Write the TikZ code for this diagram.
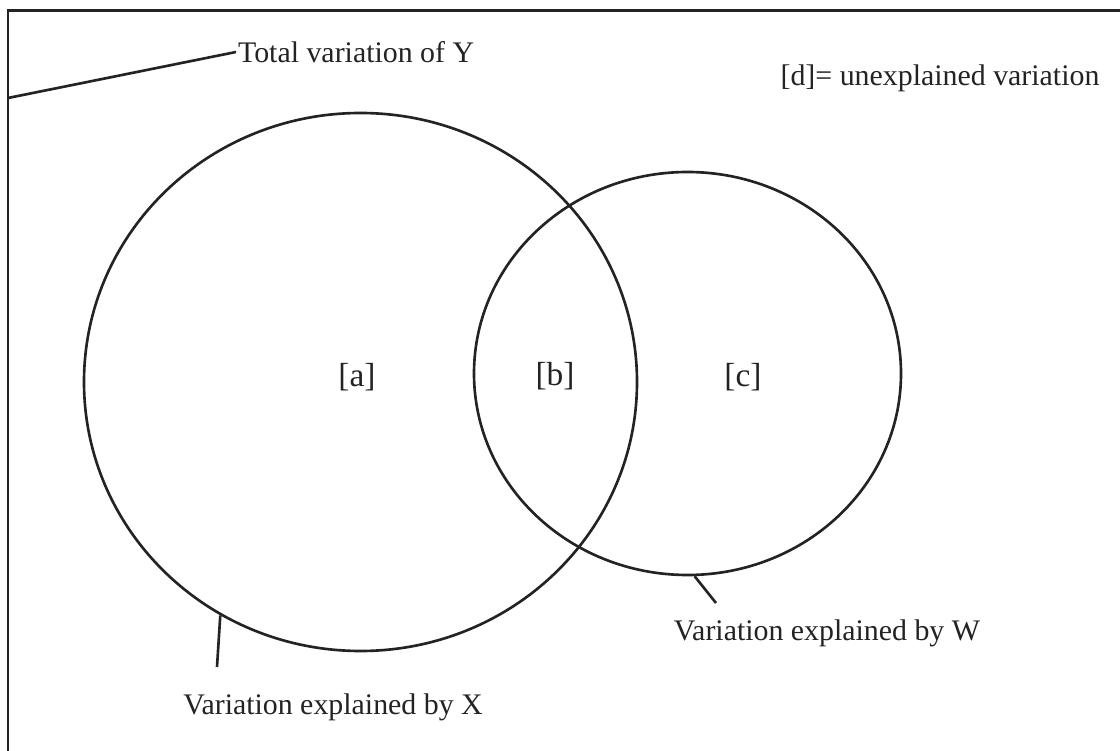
\documentclass[tikz,border=0pt]{standalone}
\usepackage{fontspec}
\setmainfont{Liberation Serif}
\usetikzlibrary{shapes.geometric}
\definecolor{ink}{RGB}{35,35,35}

\begin{document}
\begin{tikzpicture}[
    set/.style={ellipse, draw=ink, line width=1.5pt, inner sep=0pt},
    leader/.style={draw=ink, line width=1.5pt},
    lab/.style={font=\fontsize{17}{20}\selectfont, color=ink, inner sep=1pt},
    part/.style={font=\fontsize{19}{22}\selectfont, color=ink, inner sep=0pt}]
  % pinned page, the frame runs off the right and bottom edges
  \useasboundingbox (0,0) rectangle (22.4,-15.02);
  \clip (0,0) rectangle (22.4,-15.02);
  \draw[leader] (0.16,-0.21) rectangle (23.0,-16.0);
  % --- the two sets -------------------------------------------------------
  \node[set, minimum width=11.06cm, minimum height=10.76cm] (X) at (7.21,-7.64) {};
  \node[set, minimum width=8.54cm,  minimum height=8.06cm]  (W) at (13.75,-7.47) {};
  \node[part] (pa) at (7.14,-7.54)  {[a]};
  \node[part] (pb) at (11.10,-7.52) {[b]};
  \node[part] (pc) at (14.86,-7.54) {[c]};
  % --- labels and their leaders -------------------------------------------
  \node[lab, anchor=west] (totY) at (4.72,-1.04) {Total variation of Y};
  \coordinate (yfoot) at (0.16,-1.96);
  \draw[leader] (yfoot) -- (totY.west);
  \node[lab] (dlab) at (18.80,-1.56) {[d]= unexplained variation};
  \node[lab] (xlab) at (6.66,-14.14) {Variation explained by X};
  \coordinate (xend) at (4.34,-13.34);
  \draw[leader] (X.239) -- (xend);
  \node[lab] (wlab) at (16.54,-12.66) {Variation explained by W};
  \coordinate (wend) at (14.32,-12.06);
  \draw[leader] (W.272) -- (wend);
\end{tikzpicture}
\end{document}
